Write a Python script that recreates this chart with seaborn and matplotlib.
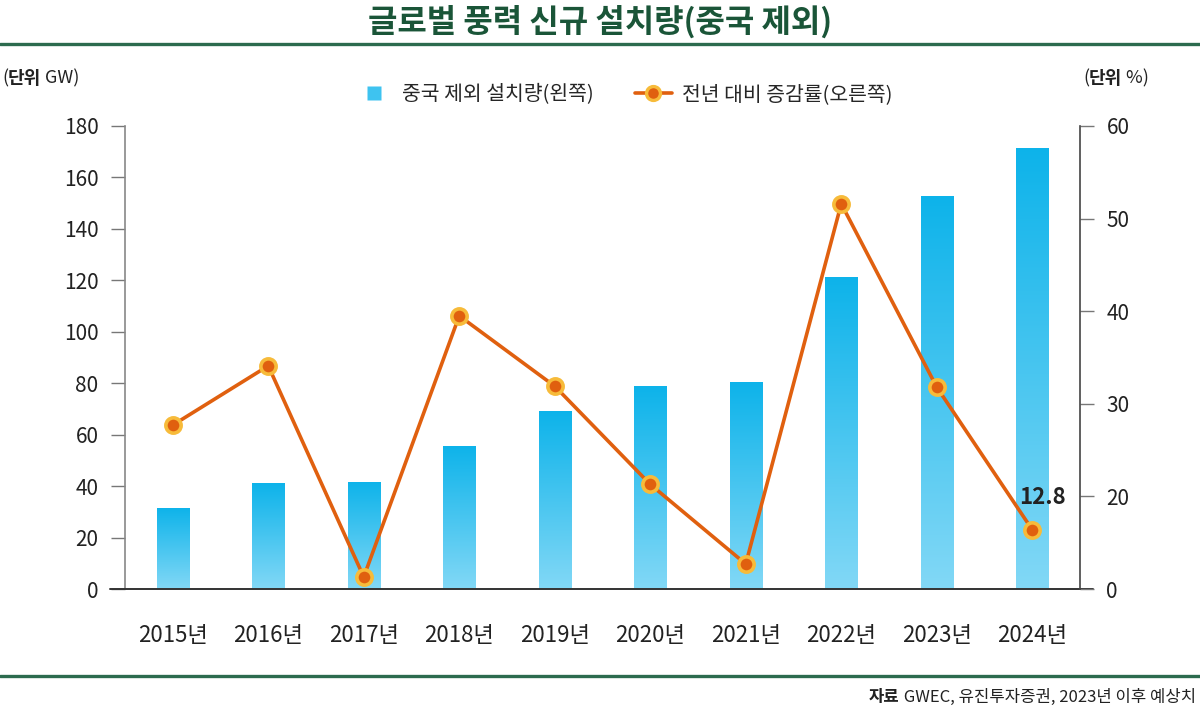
"""Global new wind installations excluding China: bars (GW) + YoY growth line (%)."""

import matplotlib.pyplot as plt
import matplotlib.colors as mcolors
from matplotlib.lines import Line2D
import seaborn as sns
import numpy as np
import pandas as pd

# data
years = ['2015년', '2016년', '2017년', '2018년', '2019년',
         '2020년', '2021년', '2022년', '2023년', '2024년']
installs_gw = [31.5, 41.2, 41.6, 55.6, 69.2, 78.9, 80.5, 121.3, 152.8, 171.5]
growth_pct = [27.7, 34.1, 2.6, 39.5, 31.9, 21.3, 5.4, 51.6, 31.8, 12.8]
left_ticks = [0, 20, 40, 60, 80, 100, 120, 140, 160, 180]
right_ticks = [0, 20, 30, 40, 50, 60]

title = '글로벌 풍력 신규 설치량(중국 제외)'
bar_label = '중국 제외 설치량(왼쪽)'
line_label = '전년 대비 증감률(오른쪽)'

GREEN = '#1a5538'
BAR_TOP = '#0db3ea'
BAR_BOTTOM = '#82d8f6'
LINE = '#e0600f'
MARK_EDGE = '#f7bb3a'
TEXT = '#222222'

sns.set_theme(style='white')
plt.rcParams['font.family'] = ['Noto Sans CJK KR', 'DejaVu Sans']

df = pd.DataFrame({'year': years, 'gw': installs_gw, 'pct': growth_pct})

fig = plt.figure(figsize=(12, 7.1), dpi=100)
ax = fig.add_axes([125 / 1200, 1 - 589 / 710, 955 / 1200, 463 / 710])

sns.barplot(data=df, x='year', y='gw', ax=ax, width=0.34, color=BAR_TOP,
            saturation=1, zorder=2)

# vertical gradient inside each bar
cmap = mcolors.LinearSegmentedColormap.from_list('bar', [BAR_BOTTOM, BAR_TOP])
grad = np.linspace(0, 1, 256).reshape(-1, 1)
for patch in list(ax.patches):
    x0, y0 = patch.get_x(), patch.get_y()
    w, h = patch.get_width(), patch.get_height()
    im = ax.imshow(grad, extent=[x0, x0 + w, y0, y0 + h], origin='lower',
                   aspect='auto', cmap=cmap, zorder=2)
    im.set_clip_path(patch)
    patch.set_facecolor('none')
    patch.set_edgecolor('none')

ax.set_xlim(-0.5, len(years) - 0.5)
ax.set_ylim(0, 180)
ax.set_yticks(left_ticks)
ax.set_xlabel('')
ax.set_ylabel('')
ax.set_xticks(range(len(years)))
ax.set_xticklabels(years)
ax.set_xticks(np.arange(0.5, len(years) - 1, 1), minor=True)
ax.tick_params(axis='x', which='major', length=0, pad=25, labelsize=16,
               labelcolor=TEXT)
ax.tick_params(axis='x', which='minor', bottom=True, direction='in',
               length=7, width=1, color='#666666')
ax.tick_params(axis='y', left=True, direction='out', length=10, width=1,
               color='#777777', pad=9, labelsize=15, labelcolor=TEXT)
for side in ['top', 'right', 'bottom']:
    ax.spines[side].set_visible(False)
ax.spines['left'].set_color('#888888')
ax.spines['left'].set_linewidth(1.2)

# baseline slightly wider than the plot area
ax.add_line(Line2D([-0.016, 1.014], [0, 0], transform=ax.transAxes,
                   color='#333333', lw=1.4, clip_on=False, zorder=5))

# right axis: designer's broken scale, 0-20 squeezed into one step
ax2 = ax.twinx()
steps_v = [0, 20, 60]
steps_p = [0, 1, 5]
ax2.set_yscale('function', functions=(lambda v: np.interp(v, steps_v, steps_p),
                                      lambda p: np.interp(p, steps_p, steps_v)))
sns.lineplot(x=np.arange(len(years)), y=growth_pct, ax=ax2, color=LINE,
             lw=2.6, marker='o', markersize=11, markerfacecolor=LINE,
             markeredgecolor=MARK_EDGE, markeredgewidth=2.6, zorder=4)
ax2.set_ylim(0, 60)
ax2.set_yticks(right_ticks)
ax2.set_yticklabels([str(t) for t in right_ticks])
ax2.minorticks_off()
ax2.tick_params(axis='y', right=True, direction='out', length=10, width=1,
                color='#777777', pad=9, labelsize=15, labelcolor=TEXT)
for side in ['top', 'left', 'bottom']:
    ax2.spines[side].set_visible(False)
ax2.spines['right'].set_color('#444444')
ax2.spines['right'].set_linewidth(1.2)

ax2.annotate(f'{growth_pct[-1]}', xy=(len(years) - 1, growth_pct[-1]),
             xytext=(7, 23), textcoords='offset points', ha='center',
             va='center', fontsize=16, color=TEXT, weight='bold')

# title and rules
fig.text(0.5, 1 - 22 / 710, title, ha='center', va='center', fontsize=23,
         weight='bold', color=GREEN)
fig.add_artist(Line2D([0, 1], [1 - 44 / 710] * 2, color='#2c6b4e', lw=2.4))
fig.add_artist(Line2D([0, 1], [1 - 676 / 710] * 2, color='#2c6b4e', lw=2.4))

renderer = fig.canvas.get_renderer()


def mixed_text(x_px, y_px, parts, size, align='left'):
    """Place text pieces with different weights side by side."""
    widths = []
    for txt, weight in parts:
        t = fig.text(0, 0, txt, fontsize=size, weight=weight)
        widths.append(t.get_window_extent(renderer).width)
        t.remove()
    x = x_px - sum(widths) if align == 'right' else x_px
    for (txt, weight), w in zip(parts, widths):
        fig.text(x / 1200, 1 - y_px / 710, txt, fontsize=size, weight=weight,
                 va='center', ha='left', color=TEXT)
        x += w


mixed_text(2, 78, [('(', 'normal'), ('단위', 'bold'), (' GW)', 'normal')], 13)
mixed_text(1083, 78, [('(', 'normal'), ('단위', 'bold'), (' %)', 'normal')], 13)
mixed_text(1196, 697, [('자료', 'bold'),
                       (' GWEC, 유진투자증권, 2023년 이후 예상치', 'normal')],
           12, align='right')

handles = [Line2D([], [], linestyle='none', marker='s', markersize=10,
                  markerfacecolor='#3ec3f0', markeredgecolor='none'),
           Line2D([], [], color=LINE, lw=2.6, marker='o', markersize=10,
                  markerfacecolor=LINE, markeredgecolor=MARK_EDGE,
                  markeredgewidth=2.4)]
fig.legend(handles, [bar_label, line_label], loc='center',
           bbox_to_anchor=(0.52, 1 - 95 / 710), ncol=2, frameon=False,
           fontsize=14.7, handlelength=1.8, columnspacing=2.0,
           handletextpad=0.5)

fig.savefig('out.png', dpi=100)
plt.close(fig)
